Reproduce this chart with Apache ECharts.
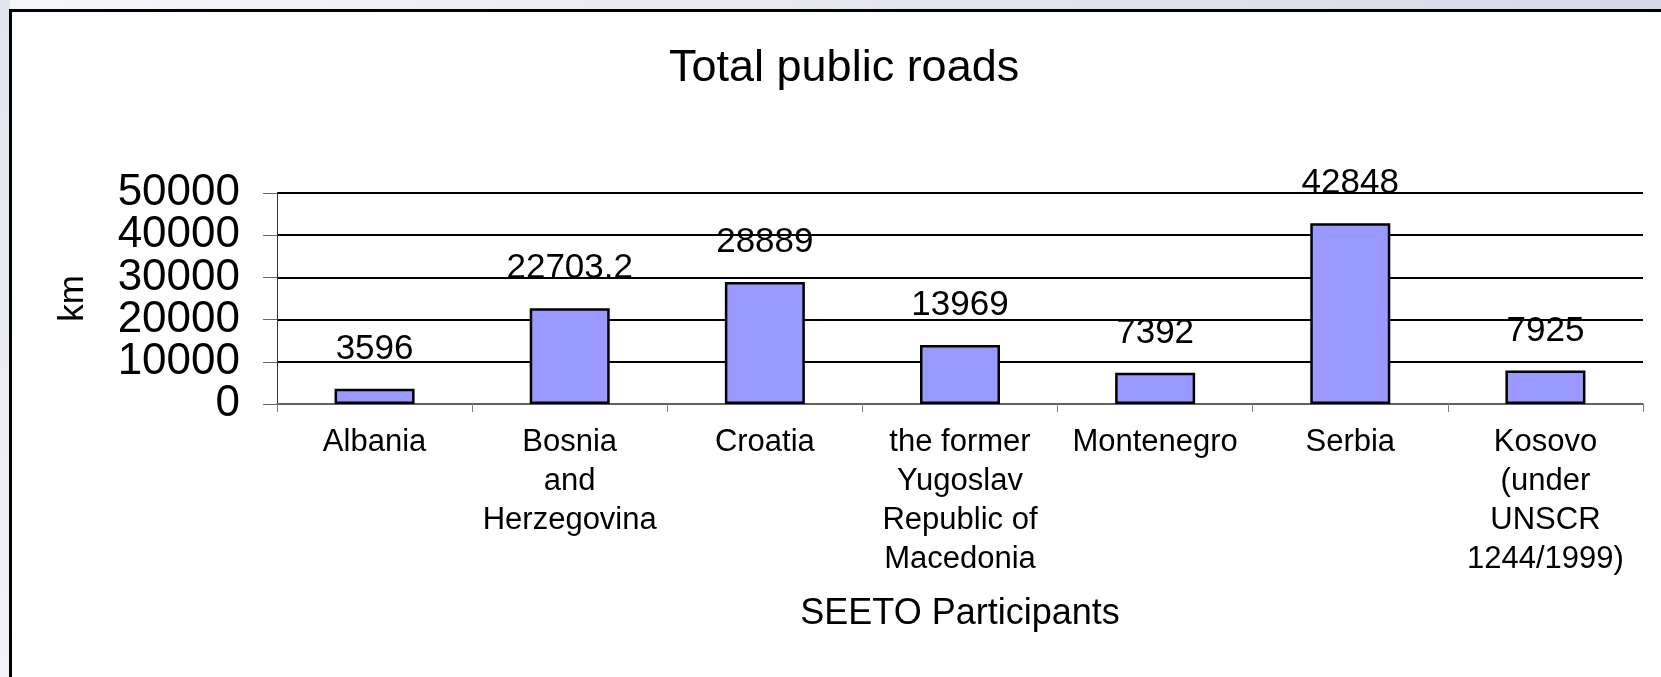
<!DOCTYPE html>
<html>
<head>
<meta charset="utf-8">
<script src="https://cdn.jsdelivr.net/npm/echarts@6/dist/echarts.min.js"></script>
<style>
  html, body { margin: 0; padding: 0; background: #e6e8f0; }
  #main { width: 1661px; height: 677px; }
</style>
</head>
<body>
<div id="main"></div>
<script>
// SEETO participants and total public roads (km)
var participants = [
    'Albania',
    'Bosnia\nand\nHerzegovina',
    'Croatia',
    'the former\nYugoslav\nRepublic of\nMacedonia',
    'Montenegro',
    'Serbia',
    'Kosovo\n(under\nUNSCR\n1244/1999)'
];
var roadsKm = [3596, 22703.2, 28889, 13969, 7392, 42848, 7925];
var yTicks = [0, 10000, 20000, 30000, 40000, 50000];

var myChart = echarts.init(document.getElementById('main'));
var font = 'Liberation Sans, Arial, sans-serif';

// the tick labels overlap a bit, so split them over two stacked axes
// or echarts drops every other one
function tickLabel(odd) {
    return function (v) {
        var i = yTicks.indexOf(v);
        return (i % 2 === 1) === odd ? String(v) : '';
    };
}

var labelStyle = {
    margin: 37,
    fontFamily: font,
    fontSize: 44,
    color: '#000',
    interval: 0,
    showMinLabel: true,
    showMaxLabel: true,
    hideOverlap: false
};

var option = {
    animation: false,
    backgroundColor: 'transparent',
    textStyle: { fontFamily: font, color: '#000' },
    graphic: [
        {
            type: 'rect', z: -10, silent: true,
            shape: { x: 0, y: 0, width: 1661, height: 11 },
            style: {
                fill: new echarts.graphic.LinearGradient(0, 0, 1, 0, [
                    { offset: 0, color: '#f6f7fa' },
                    { offset: 1, color: '#d6d8e6' }
                ])
            }
        },
        {
            type: 'rect', z: -10, silent: true,
            shape: { x: 0, y: 0, width: 10, height: 677 },
            style: {
                fill: new echarts.graphic.LinearGradient(0, 0, 0, 1, [
                    { offset: 0, color: '#e2e5ee' },
                    { offset: 1, color: '#f2f2f7' }
                ])
            }
        },
        {
            type: 'rect', z: -9, silent: true,
            shape: { x: 10.5, y: 10.5, width: 1700, height: 700 },
            style: { fill: '#fff', stroke: '#000', lineWidth: 3 }
        }
    ],
    title: {
        text: 'Total public roads',
        left: 664,
        top: 41,
        textStyle: { fontFamily: font, fontSize: 45, fontWeight: 'normal', color: '#000' }
    },
    grid: {
        left: 277,
        right: 18,
        top: 193,
        bottom: 273
    },
    xAxis: {
        type: 'category',
        data: participants,
        name: 'SEETO Participants',
        nameLocation: 'middle',
        nameGap: 192,
        nameTextStyle: { fontFamily: font, fontSize: 36, color: '#000' },
        axisLine: { lineStyle: { color: '#808080', width: 1.5 } },
        axisTick: { show: true, length: 8, lineStyle: { color: '#808080' } },
        axisLabel: {
            interval: 0,
            margin: 19,
            fontFamily: font,
            fontSize: 31,
            lineHeight: 39,
            color: '#000',
            align: 'center'
        }
    },
    yAxis: [
        {
            type: 'value',
            min: 0,
            max: 50000,
            interval: 10000,
            name: 'km',
            nameLocation: 'middle',
            nameRotate: 90,
            nameGap: 186,
            nameTextStyle: { fontFamily: font, fontSize: 35, color: '#000' },
            axisLine: { show: true, lineStyle: { color: '#333', width: 1 } },
            axisTick: { show: true, length: 14, lineStyle: { color: '#666' } },
            axisLabel: Object.assign({ formatter: tickLabel(false) }, labelStyle),
            splitLine: { lineStyle: { color: '#000', width: 2 } }
        },
        {
            type: 'value',
            position: 'left',
            min: 0,
            max: 50000,
            interval: 10000,
            axisLine: { show: false },
            axisTick: { show: false },
            splitLine: { show: false },
            axisLabel: Object.assign({ formatter: tickLabel(true) }, labelStyle)
        }
    ],
    series: [
        {
            name: 'Total public roads',
            type: 'bar',
            yAxisIndex: 0,
            data: roadsKm,
            barWidth: 80,
            itemStyle: { color: '#9999ff', borderColor: '#000', borderWidth: 2.5 },
            label: {
                show: true,
                position: 'top',
                distance: 22,
                fontFamily: font,
                fontSize: 35,
                color: '#000'
            }
        }
    ]
};

myChart.setOption(option);
</script>
</body>
</html>
